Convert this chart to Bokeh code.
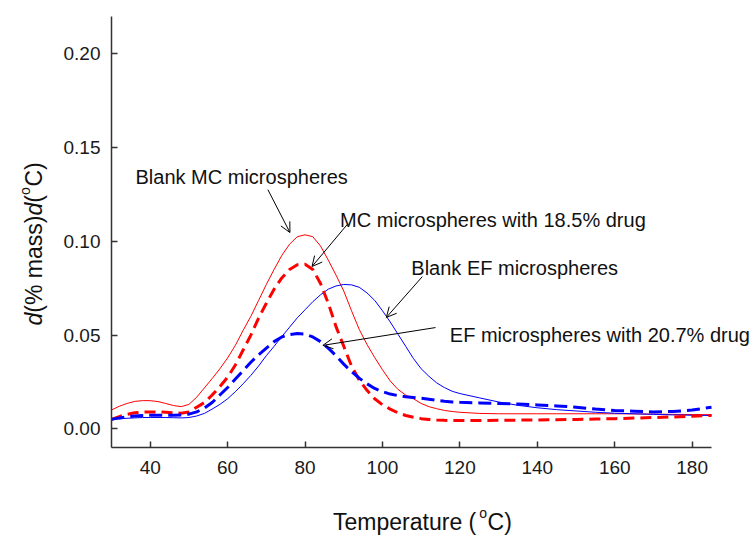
import math
from bokeh.plotting import figure
from bokeh.models import Range1d, FixedTicker, NumeralTickFormatter, Label, Arrow, OpenHead
from bokeh.embed import file_html
from bokeh.resources import INLINE

# Temperature (°C)
temperature = [30, 32, 34, 36, 38, 40, 42, 44, 46, 48, 50, 52, 54, 56, 58, 60, 62, 64, 66, 68,
               70, 72, 74, 76, 78, 80, 82, 84, 86, 88, 90, 92, 94, 96, 98, 100, 102, 104, 106, 108,
               110, 112, 114, 116, 118, 120, 125, 130, 135, 140, 145, 150, 155, 160, 165, 170, 175, 180, 185]

blank_mc = [0.0100, 0.0120, 0.0135, 0.0146, 0.0150, 0.0150, 0.0145, 0.0135, 0.0124, 0.0118, 0.0130,
            0.0168, 0.0218, 0.0268, 0.0320, 0.0378, 0.0445, 0.0525, 0.0600, 0.0685, 0.0770, 0.0850,
            0.0925, 0.0985, 0.1025, 0.1035, 0.1025, 0.0975, 0.0900, 0.0820, 0.0735, 0.0630, 0.0530,
            0.0450, 0.0380, 0.0315, 0.0255, 0.0210, 0.0180, 0.0160, 0.0135, 0.0118, 0.0107, 0.0098,
            0.0092, 0.0088, 0.0082, 0.0080, 0.0080, 0.0080, 0.0080, 0.0080, 0.0080, 0.0080, 0.0079,
            0.0078, 0.0077, 0.0076, 0.0075]

mc_drug = [0.0050, 0.0065, 0.0077, 0.0085, 0.0089, 0.0090, 0.0090, 0.0088, 0.0085, 0.0083, 0.0090,
           0.0115, 0.0140, 0.0180, 0.0225, 0.0275, 0.0340, 0.0420, 0.0500, 0.0590, 0.0670, 0.0745,
           0.0805, 0.0850, 0.0875, 0.0878, 0.0850, 0.0775, 0.0670, 0.0545, 0.0440, 0.0335, 0.0260,
           0.0205, 0.0160, 0.0128, 0.0105, 0.0085, 0.0071, 0.0061, 0.0054, 0.0050, 0.0047, 0.0045,
           0.0044, 0.0044, 0.0044, 0.0045, 0.0046, 0.0047, 0.0048, 0.0050, 0.0052, 0.0054, 0.0057,
           0.0060, 0.0063, 0.0067, 0.0071]

blank_ef = [0.0050, 0.0053, 0.0056, 0.0058, 0.0060, 0.0060, 0.0060, 0.0060, 0.0059, 0.0058, 0.0060,
            0.0068, 0.0082, 0.0105, 0.0130, 0.0160, 0.0198, 0.0240, 0.0285, 0.0335, 0.0390, 0.0440,
            0.0492, 0.0542, 0.0592, 0.0635, 0.0678, 0.0715, 0.0745, 0.0762, 0.0770, 0.0768, 0.0755,
            0.0725, 0.0685, 0.0630, 0.0570, 0.0505, 0.0440, 0.0375, 0.0320, 0.0280, 0.0245, 0.0220,
            0.0200, 0.0188, 0.0165, 0.0143, 0.0125, 0.0112, 0.0102, 0.0095, 0.0088, 0.0083, 0.0080,
            0.0077, 0.0074, 0.0072, 0.0071]

ef_drug = [0.0050, 0.0058, 0.0064, 0.0068, 0.0071, 0.0072, 0.0072, 0.0072, 0.0072, 0.0073, 0.0078,
           0.0090, 0.0110, 0.0140, 0.0180, 0.0220, 0.0265, 0.0310, 0.0355, 0.0395, 0.0430, 0.0465,
           0.0490, 0.0503, 0.0508, 0.0505, 0.0490, 0.0465, 0.0430, 0.0390, 0.0345, 0.0305, 0.0270,
           0.0240, 0.0215, 0.0198, 0.0185, 0.0177, 0.0171, 0.0167, 0.0163, 0.0158, 0.0152, 0.0147,
           0.0143, 0.0141, 0.0138, 0.0135, 0.0132, 0.0127, 0.0122, 0.0115, 0.0105, 0.0098, 0.0094,
           0.0090, 0.0092, 0.0100, 0.0115]

x_ticks = [40, 60, 80, 100, 120, 140, 160, 180]
y_ticks = [0.00, 0.05, 0.10, 0.15, 0.20]
x_bounds = (30, 185)
y_bounds = (-0.01, 0.22)

FONT = "Liberation Sans"

# Frame covers the whole canvas; axes sit at fixed locations so that outer texts are not clipped.
W, H = 750, 536
FL, FR, FT, FB = 111, 711, 16, 447   # where the axis box lies in canvas pixels
sx = (FR - FL) / (x_bounds[1] - x_bounds[0])
sy = (FB - FT) / (y_bounds[1] - y_bounds[0])
x_range = Range1d(x_bounds[0] - FL / sx, x_bounds[1] + (W - FR) / sx)
y_range = Range1d(y_bounds[0] - (H - FB) / sy, y_bounds[1] + FT / sy)

p = figure(width=W, height=H, output_backend="svg", toolbar_location=None,
           x_range=x_range, y_range=y_range,
           min_border_left=0, min_border_right=0, min_border_top=0, min_border_bottom=0)
p.outline_line_color = None
p.xgrid.visible = False
p.ygrid.visible = False
p.background_fill_color = "white"
p.border_fill_color = "white"

for ax in (p.xaxis[0], p.yaxis[0]):
    ax.axis_line_color = "#333333"
    ax.axis_line_width = 1.5
    ax.major_tick_line_color = "#333333"
    ax.major_tick_line_width = 1.5
    ax.major_tick_in = 6
    ax.major_tick_out = 0
    ax.minor_tick_line_color = None
    ax.major_label_text_font = FONT
    ax.major_label_text_font_size = "19px"
    ax.major_label_text_color = "#1a1a1a"

p.xaxis.fixed_location = y_bounds[0]
p.xaxis.bounds = x_bounds
p.yaxis.fixed_location = x_bounds[0]
p.yaxis.bounds = y_bounds
p.xaxis.ticker = FixedTicker(ticks=x_ticks)
p.yaxis.ticker = FixedTicker(ticks=y_ticks)
p.yaxis.formatter = NumeralTickFormatter(format="0.00")
p.xaxis.major_label_standoff = 13
p.yaxis.major_label_standoff = 11

# curves
p.line(temperature, blank_mc, line_color="#ff0000", line_width=1)
p.line(temperature, blank_ef, line_color="#0000ff", line_width=1)
p.line(temperature, mc_drug, line_color="#ff0000", line_width=3, line_dash="11 6")
p.line(temperature, ef_drug, line_color="#0000ff", line_width=3, line_dash="13 6")

def piece(x, y, text, size="20px", dx=0, dy=0, style="normal", angle=0.0):
    p.add_layout(Label(x=x, y=y, text=text,
                       text_font=FONT, text_font_size=size, text_font_style=style,
                       text_color="#111111", x_offset=dx, y_offset=dy,
                       text_baseline="alphabetic", text_align="left", angle=angle))

piece(36.2, 0.1346, "Blank MC microspheres")
piece(89.05, 0.1116, "MC microspheres with 18.5% drug")
piece(107.45, 0.0857, "Blank EF microspheres")
piece(117.4, 0.0503, "EF microspheres with 20.7% drug")

def arrow(x0, y0, x1, y1):
    p.add_layout(Arrow(end=OpenHead(size=10, line_width=1, line_color="black"),
                       x_start=x0, y_start=y0, x_end=x1, y_end=y1,
                       line_color="black", line_width=1))

arrow(70.4, 0.1276, 76.1, 0.1047)
arrow(90.9, 0.1090, 81.8, 0.0866)
arrow(110.3, 0.0812, 101.0, 0.0594)
arrow(113.7, 0.0540, 84.6, 0.0445)

# x axis title with superscript
xt_x, xt_y = 87.24, -0.0500
piece(xt_x, xt_y, "Temperature (", "23px")
piece(xt_x, xt_y, "o", "14px", dx=146.2, dy=9)
piece(xt_x, xt_y, "C)", "23px", dx=154.5)

# y axis title, rotated
yt_x, yt_y = 9.9, 0.0551
a = math.pi / 2
piece(yt_x, yt_y, "d", "23px", style="italic", angle=a)
piece(yt_x, yt_y, "(% mass)", "23px", dy=12.8, angle=a)
piece(yt_x, yt_y, "d", "23px", dy=109.9, style="italic", angle=a)
piece(yt_x, yt_y, "(", "23px", dy=122.7, angle=a)
piece(yt_x, yt_y, "o", "14px", dx=-9, dy=130.6, angle=a)
piece(yt_x, yt_y, "C)", "23px", dy=138.9, angle=a)

open("out.html", "w").write(file_html(p, INLINE))
